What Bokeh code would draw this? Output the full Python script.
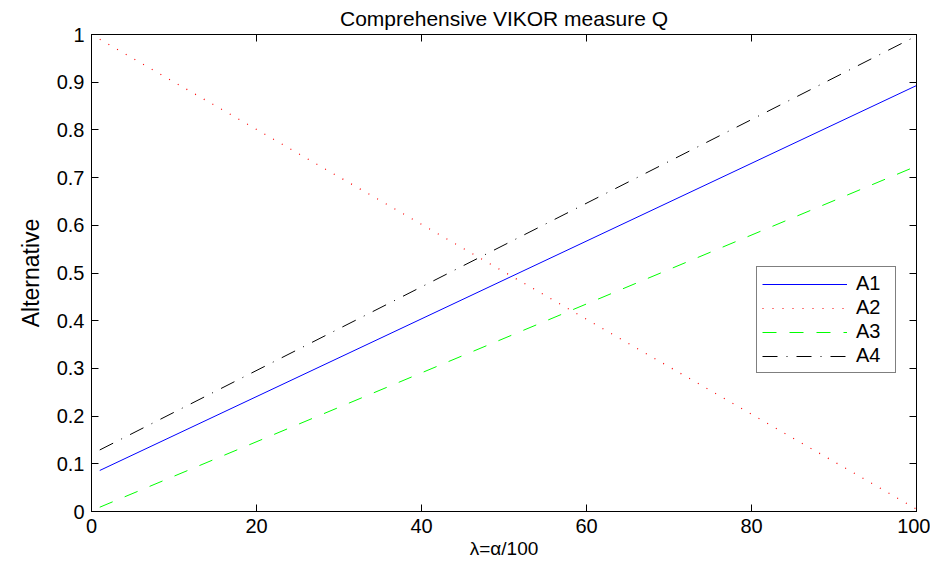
from bokeh.plotting import figure
from bokeh.models import LinearAxis, Range1d, Legend, LegendItem, FixedTicker
from bokeh.embed import file_html
from bokeh.resources import INLINE

# data
lam = [1, 100]
A1 = [0.086, 0.893]
A2 = [0.990, 0.005]
A3 = [0.009, 0.724]
A4 = [0.129, 0.997]
x_ticks = [0, 20, 40, 60, 80, 100]
y_ticks = [0, 0.1, 0.2, 0.3, 0.4, 0.5, 0.6, 0.7, 0.8, 0.9, 1]
y_labels = {0: "0", 0.1: "0.1", 0.2: "0.2", 0.3: "0.3", 0.4: "0.4", 0.5: "0.5",
            0.6: "0.6", 0.7: "0.7", 0.8: "0.8", 0.9: "0.9", 1: "1"}

FONT = "Liberation Sans"

p = figure(width=930, height=563, output_backend="svg", toolbar_location=None,
           x_range=Range1d(0, 100), y_range=Range1d(0, 1),
           min_border_left=91, min_border_right=14, min_border_top=32, min_border_bottom=52,
           x_axis_location=None, y_axis_location=None)
p.title.text = "Comprehensive VIKOR measure Q"
p.title.text_font = FONT
p.title.text_font_size = "21px"
p.title.text_font_style = "normal"
p.title.text_color = "black"
p.title.align = "center"
p.title.standoff = 9
p.title.offset = 0
p.xgrid.visible = False
p.ygrid.visible = False
p.outline_line_color = "black"
p.outline_line_width = 1
p.background_fill_color = "white"
p.border_fill_color = "white"

def style(ax, labels=True):
    ax.axis_line_color = "black"
    ax.axis_line_width = 1
    ax.major_tick_in = 7
    ax.major_tick_out = 0
    ax.minor_tick_line_color = None
    ax.major_tick_line_color = "black"
    if labels:
        ax.major_label_text_font = FONT
        ax.major_label_text_font_size = "20px"
        ax.major_label_text_color = "black"
        ax.major_label_standoff = 7
    else:
        ax.major_label_text_font_size = "1px"
        ax.major_label_text_color = None
        ax.major_label_standoff = 0

xb = LinearAxis(ticker=FixedTicker(ticks=x_ticks), axis_label="λ=α/100")
style(xb)
xb.axis_label_text_font = FONT
xb.axis_label_text_font_size = "19px"
xb.axis_label_text_font_style = "normal"
xb.axis_label_text_color = "black"
xb.axis_label_standoff = 2
p.add_layout(xb, "below")

yl = LinearAxis(ticker=FixedTicker(ticks=y_ticks), axis_label="Alternative")
style(yl)
yl.major_label_overrides = y_labels
yl.axis_label_text_font = FONT
yl.axis_label_text_font_size = "23px"
yl.axis_label_text_font_style = "normal"
yl.axis_label_text_color = "black"
yl.axis_label_standoff = 10
p.add_layout(yl, "left")

xt = LinearAxis(ticker=FixedTicker(ticks=x_ticks))
style(xt, labels=False)
p.add_layout(xt, "above")

yr = LinearAxis(ticker=FixedTicker(ticks=y_ticks))
style(yr, labels=False)
p.add_layout(yr, "right")

r1 = p.line(lam, A1, line_color="#0000ff", line_width=1)
r2 = p.line(lam, A2, line_color="#ff0000", line_width=1.2, line_dash="1 9")
r3 = p.line(lam, A3, line_color="#00ff00", line_width=1, line_dash="14 13")
r4 = p.line(lam, A4, line_color="#000000", line_width=1, line_dash="15 9 1 9")

legend = Legend(items=[LegendItem(label="A1", renderers=[r1]),
                       LegendItem(label="A2", renderers=[r2]),
                       LegendItem(label="A3", renderers=[r3]),
                       LegendItem(label="A4", renderers=[r4])],
                location=(665, 138))
legend.label_text_font = FONT
legend.label_text_font_size = "20px"
legend.label_text_color = "black"
legend.label_height = 22
legend.glyph_height = 22
legend.glyph_width = 85
legend.label_width = 34
legend.label_standoff = 9
legend.spacing = 1
legend.padding = 5
legend.margin = 0
legend.border_line_color = "black"
legend.border_line_width = 1
legend.background_fill_alpha = 1
p.add_layout(legend, "center")

open("out.html", "w").write(file_html(p, INLINE))
